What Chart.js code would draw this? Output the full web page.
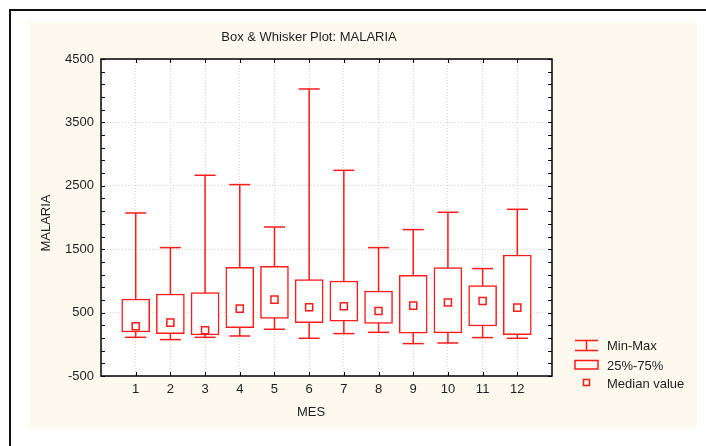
<!DOCTYPE html>
<html>
<head>
<meta charset="utf-8">
<script src="https://cdn.jsdelivr.net/npm/chart.js@4/dist/chart.umd.min.js"></script>
<style>
  html, body { margin: 0; padding: 0; background: #fff; }
  canvas { display: block; }
</style>
</head>
<body>
<canvas id="boxPlot" width="706" height="446"></canvas>
<script>
// data
const months = [1, 2, 3, 4, 5, 6, 7, 8, 9, 10, 11, 12];
const minVals = [110, 74, 110, 131, 237, 95, 169, 189, 11, 21, 106, 95];
const q1Vals = [194, 169, 147, 263, 410, 342, 363, 331, 174, 179, 289, 153];
const medianVals = [284, 342, 221, 563, 705, 584, 599, 525, 610, 658, 683, 579];
const q3Vals = [714, 793, 815, 1215, 1230, 1020, 998, 841, 1088, 1210, 926, 1408];
const maxVals = [2071, 1525, 2666, 2519, 1850, 4027, 2744, 1525, 1809, 2082, 1194, 2129];
const yTicks = [-500, 500, 1500, 2500, 3500, 4500];
const legendLabels = ["Min-Max", "25%-75%", "Median value"];

const RED = "#ff1a1a";
const FONT = "'Liberation Sans', Arial, sans-serif";
const TEXT = "#1e1e1e";

// min-max whisker lines, one gap between months
const whiskerData = [];
months.forEach((m, i) => {
  whiskerData.push({ x: m, y: minVals[i] });
  whiskerData.push({ x: m, y: maxVals[i] });
  whiskerData.push({ x: m, y: null });
});
const capData = months.map((m, i) => ({ x: m, y: minVals[i] }))
  .concat(months.map((m, i) => ({ x: m, y: maxVals[i] })));

const decor = {
  id: "decor",
  beforeDraw(chart) {
    const ctx = chart.ctx;
    const a = chart.chartArea;
    ctx.save();
    ctx.fillStyle = "#fff";
    ctx.fillRect(0, 0, chart.width, chart.height);
    // outer frame (top + left)
    ctx.fillStyle = "#111";
    ctx.fillRect(9, 9, chart.width - 9, 2);
    ctx.fillRect(9, 9, 2, chart.height - 9);
    // cream panel
    ctx.fillStyle = "#fdf9ee";
    ctx.fillRect(30, 21, 667, 407);
    ctx.fillStyle = "#fff";
    ctx.fillRect(a.left, a.top, a.right - a.left, a.bottom - a.top);
    ctx.restore();
  },
  afterDraw(chart) {
    const ctx = chart.ctx;
    const a = chart.chartArea;
    const ys = chart.scales.y;
    const xs = chart.scales.x;
    ctx.save();
    ctx.strokeStyle = "#000";
    ctx.lineWidth = 1;
    ctx.beginPath();
    for (let v = yTicks[0]; v <= yTicks[yTicks.length - 1]; v += 200) {
      const py = Math.round(ys.getPixelForValue(v)) + 0.5;
      ctx.moveTo(a.left, py); ctx.lineTo(a.left + 4, py);
      ctx.moveTo(a.right - 4, py); ctx.lineTo(a.right, py);
    }
    months.forEach((m) => {
      const px = Math.round(xs.getPixelForValue(m)) + 0.5;
      ctx.moveTo(px, a.top); ctx.lineTo(px, a.top + 4);
      ctx.moveTo(px, a.bottom - 4); ctx.lineTo(px, a.bottom);
    });
    ctx.stroke();
    ctx.lineWidth = 1.5;
    ctx.strokeRect(a.left, a.top, a.right - a.left, a.bottom - a.top);

    // titles
    ctx.fillStyle = TEXT;
    ctx.font = "13px " + FONT;
    ctx.textAlign = "center";
    ctx.textBaseline = "middle";
    ctx.fillText("Box & Whisker Plot: MALARIA", 309, 37);
    ctx.fillText("MES", 311, 412);
    ctx.save();
    ctx.translate(46.5, 223);
    ctx.rotate(-Math.PI / 2);
    ctx.fillText("MALARIA", 0, 0);
    ctx.restore();

    // legend
    ctx.strokeStyle = RED;
    ctx.lineWidth = 1.5;
    ctx.beginPath();
    ctx.moveTo(575, 340.5); ctx.lineTo(598, 340.5);
    ctx.moveTo(575, 350.5); ctx.lineTo(598, 350.5);
    ctx.moveTo(586.5, 340.5); ctx.lineTo(586.5, 350.5);
    ctx.stroke();
    ctx.strokeRect(575, 360.5, 23, 8.5);
    ctx.strokeRect(583.5, 379.5, 6, 6);
    ctx.fillStyle = TEXT;
    ctx.textAlign = "left";
    ctx.fillText(legendLabels[0], 607, 346);
    ctx.fillText(legendLabels[1], 607, 366);
    ctx.fillText(legendLabels[2], 607, 384.5);
    ctx.restore();
  }
};

new Chart("boxPlot", {
  type: "bar",
  data: {
    datasets: [
      {
        type: "line",
        data: whiskerData,
        borderColor: RED,
        borderWidth: 1.5,
        pointRadius: 0,
        spanGaps: false,
        order: 3,
      },
      {
        type: "line",
        data: capData,
        showLine: false,
        pointStyle: "line",
        pointRadius: 10.5,
        pointBorderWidth: 1.5,
        pointBorderColor: RED,
        order: 2,
      },
      {
        type: "bar",
        data: months.map((m, i) => ({ x: m, y: [q1Vals[i], q3Vals[i]] })),
        backgroundColor: "#fff",
        borderColor: RED,
        borderWidth: 1.5,
        borderSkipped: false,
        barThickness: 28,
        order: 1,
      },
      {
        type: "line",
        data: months.map((m, i) => ({ x: m, y: medianVals[i] })),
        showLine: false,
        pointStyle: "rect",
        pointRadius: 5,
        pointBorderWidth: 1.5,
        pointBorderColor: RED,
        pointBackgroundColor: "#fff",
        order: 0,
      },
    ],
  },
  options: {
    responsive: false,
    animation: false,
    devicePixelRatio: 1,
    layout: { padding: { left: 30, top: 59, right: 154, bottom: 18 } },
    plugins: { legend: { display: false }, tooltip: { enabled: false } },
    scales: {
      x: {
        type: "linear",
        min: 0,
        max: 13,
        offset: false,
        afterBuildTicks: (s) => { s.ticks = months.map((v) => ({ value: v })); },
        afterFit: (s) => { s.height = 52; },
        ticks: { color: TEXT, font: { family: FONT, size: 13 }, padding: 6, maxRotation: 0,
                 callback: (v) => String(v) },
        grid: { offset: false, drawTicks: false, color: "#d4d4d4", lineWidth: 1 },
        border: { display: false, dash: [1, 2] },
      },
      y: {
        min: -500,
        max: 4500,
        afterBuildTicks: (s) => { s.ticks = yTicks.map((v) => ({ value: v })); },
        afterFit: (s) => { s.width = 71; },
        ticks: { color: TEXT, font: { family: FONT, size: 13 }, padding: 7,
                 callback: (v) => String(v) },
        grid: { drawTicks: false, color: "#d4d4d4", lineWidth: 1 },
        border: { display: false, dash: [1, 2] },
      },
    },
  },
  plugins: [decor],
});
</script>
</body>
</html>
